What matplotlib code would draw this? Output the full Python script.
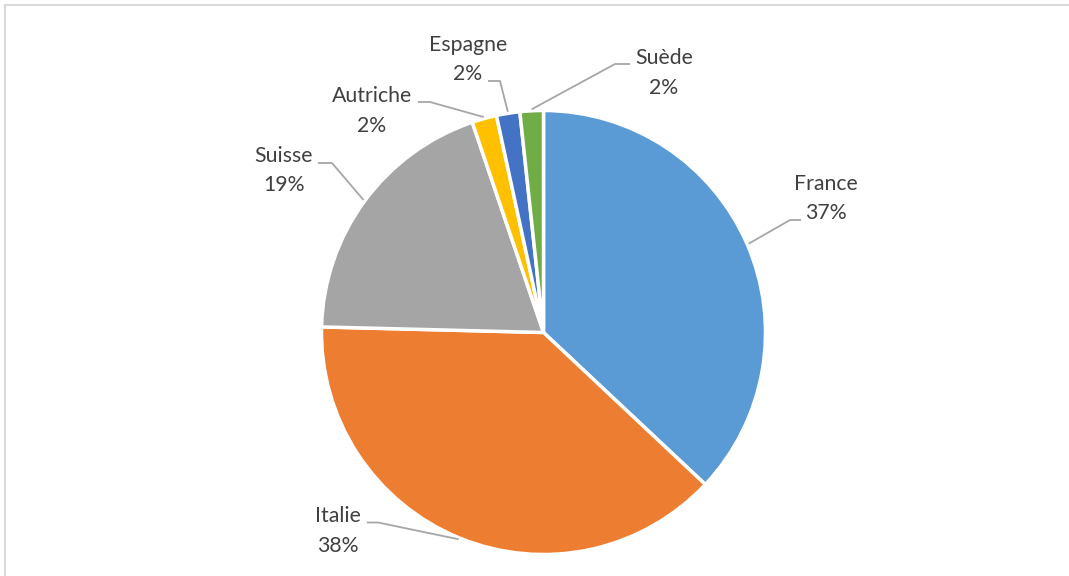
import numpy as np
import matplotlib
matplotlib.use("Agg")
import matplotlib.pyplot as plt
from matplotlib.lines import Line2D

# Share by country (percent), clockwise from 12 o'clock
countries = ["France", "Italie", "Suisse", "Autriche", "Espagne", "Suède"]
shares = [37.0, 38.4, 19.4, 1.8, 1.7, 1.7]
colors = ["#5B9BD5", "#ED7D31", "#A5A5A5", "#FFC000", "#4472C4", "#70AD47"]

W, H = 1069, 576
fig = plt.figure(figsize=(W / 100, H / 100), dpi=100)
ax = fig.add_axes([0, 0, 1, 1])


def Y(y):
    # layout values are given top-down in pixels
    return H - y


cx, cy, R = 543.5, 332.5, 222
wedges, _ = ax.pie(shares, colors=colors, startangle=90, counterclock=False,
                   center=(cx, Y(cy)), radius=R,
                   wedgeprops=dict(edgecolor="white", linewidth=2.5))

# label block centres and leader elbows: (text-side x, pie-side x, y)
label_centre = [(826, 198.5), (338, 531), (284, 170.5), (372, 111),
                (468, 59.5), (664, 73)]
elbows = [(801, 790, 220), (367, 378, 522.5), (318, 332, 163),
          (418, 430, 102), (488, 500, 81), (630, 615, 64)]

font = dict(family=["Lato", "DejaVu Sans"], size=15.3, color="#404040")
cum = np.cumsum([0] + shares[:-1])
for name, v, c0, (lx, ly), (ex0, ex1, ey) in zip(countries, shares, cum,
                                                  label_centre, elbows):
    mid = np.deg2rad(90 - 3.6 * (c0 + v / 2))
    ax0 = cx + (R + 1.5) * np.cos(mid)
    ay0 = Y(cy) + (R + 1.5) * np.sin(mid)
    ax.plot([ex0, ex1, ax0], [Y(ey), Y(ey), ay0], color="#A6A6A6",
            lw=1.3, solid_capstyle="butt", zorder=3)
    ax.text(lx, Y(ly - 14.5), name, ha="center", va="center", **font)
    ax.text(lx, Y(ly + 14.5), f"{round(v)}%", ha="center", va="center", **font)

ax.set_xlim(0, W)
ax.set_ylim(0, H)
ax.set_aspect("equal")
ax.axis("off")

# chart-area frame (top and left edges)
fig.add_artist(Line2D([5 / W, 1], [1 - 5 / H, 1 - 5 / H], color="#D9D9D9", lw=1.5))
fig.add_artist(Line2D([5 / W, 5 / W], [0, 1 - 5 / H], color="#D9D9D9", lw=1.5))

fig.savefig("out.png", dpi=100, facecolor="white")
